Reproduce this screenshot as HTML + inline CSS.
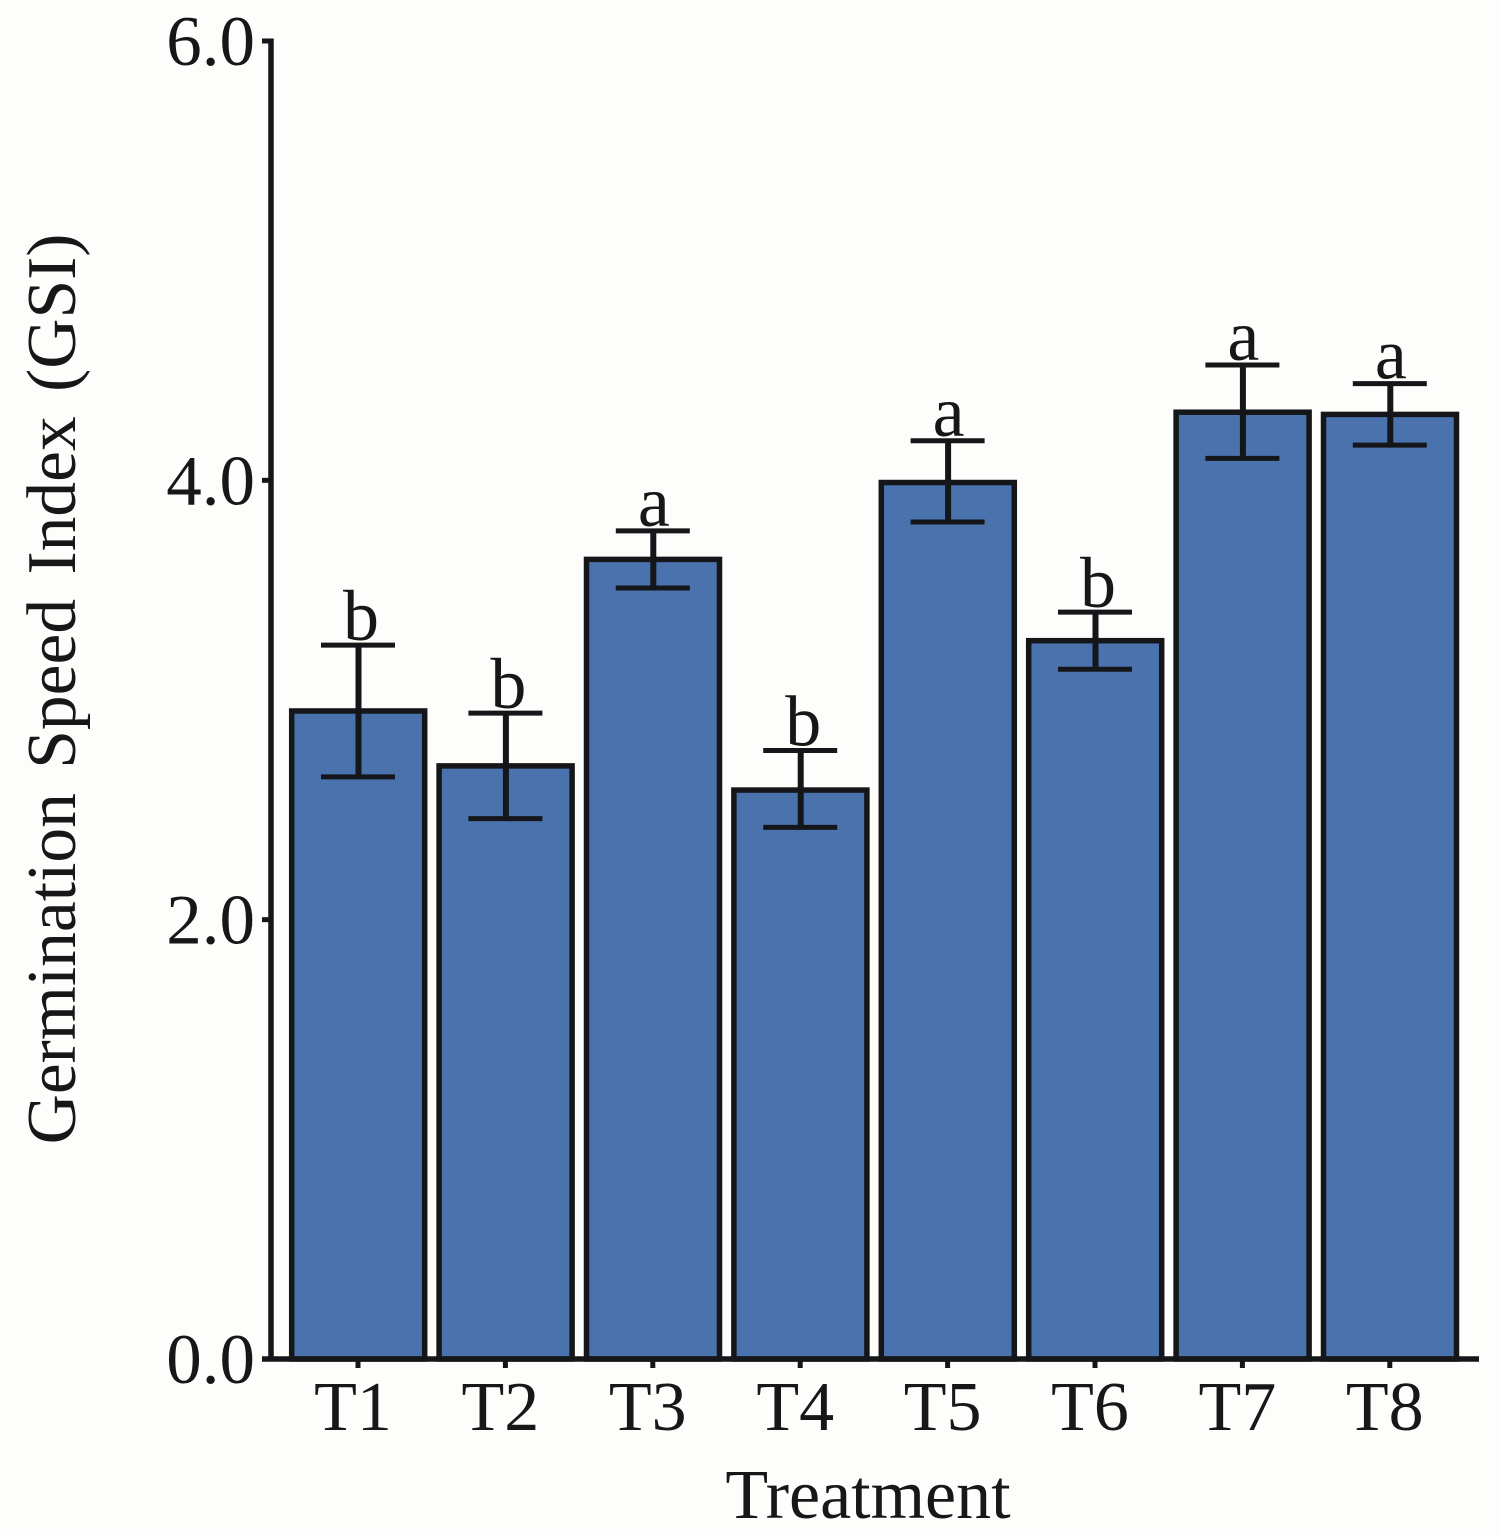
<!DOCTYPE html>
<html lang="en">
<head>
<meta charset="utf-8">
<title>Germination Speed Index</title>
<style>
html,body{margin:0;padding:0;background:#fdfdfb;}
svg{display:block;}
text{font-family:"Liberation Serif",serif;fill:#171717;}
</style>
</head>
<body>
<svg id="chart" xmlns="http://www.w3.org/2000/svg" width="1499" height="1535" viewBox="0 0 1499 1535">
<rect x="0" y="0" width="1499" height="1535" fill="#fdfdfb"/>
<g id="bars"></g>
<g id="errors"></g>
<g id="letters"></g>
<g id="axes"></g>
<text x="868" y="1518" font-size="70" text-anchor="middle">Treatment</text>
<text transform="translate(75 689) rotate(-90)" font-size="69.5" word-spacing="7" text-anchor="middle">Germination Speed Index (GSI)</text>
</svg>
<script>
const categories = ['T1','T2','T3','T4','T5','T6','T7','T8'];
const means = [2.95,2.70,3.64,2.59,3.99,3.27,4.31,4.30];
const errorHigh = [3.25,2.94,3.77,2.77,4.18,3.40,4.525,4.44];
const errorLow = [2.65,2.46,3.51,2.42,3.81,3.14,4.10,4.16];
const letters = ['b','b','a','b','a','b','a','a'];
const yTicks = [0,2,4,6];
const yTickLabels = ['0.0','2.0','4.0','6.0'];

const NS = 'http://www.w3.org/2000/svg';
const INK = '#14161a';
const FILL = '#4a72ad';
const y = v => 1359 - v * 219.67;
const x = i => 358 + i * 147.4;
const make = (parent, tag, attrs) => {
  const el = document.createElementNS(NS, tag);
  Object.keys(attrs).forEach(k => el.setAttribute(k, attrs[k]));
  parent.appendChild(el);
  return el;
};
const barsG = document.getElementById('bars');
const errG = document.getElementById('errors');
const letG = document.getElementById('letters');
const axG = document.getElementById('axes');

categories.forEach((c, i) => {
  const cx = x(i);
  const bar = make(barsG, 'rect', {x: cx - 66.3, y: y(means[i]), width: 133, height: y(0) - y(means[i]), fill: FILL, stroke: INK, 'stroke-width': 5.5});
  
  

  const stem = make(errG, 'line', {x1: cx + 0.5, x2: cx + 0.5, y1: y(errorHigh[i]), y2: y(errorLow[i]), stroke: INK, 'stroke-width': 6});
  
  
  const capHigh = make(errG, 'line', {x1: cx - 37, x2: cx + 37, y1: y(errorHigh[i]), y2: y(errorHigh[i]), stroke: INK, 'stroke-width': 5});
  
  
  const capLow = make(errG, 'line', {x1: cx - 37, x2: cx + 37, y1: y(errorLow[i]), y2: y(errorLow[i]), stroke: INK, 'stroke-width': 5});
  
  

  const lt = make(letG, 'text', {x: cx + (letters[i] === 'b' ? 3 : 1), y: y(errorHigh[i]) - 5, 'font-size': 72, 'text-anchor': 'middle'});
  lt.textContent = letters[i];
  
  

  const tick = make(axG, 'line', {x1: cx, x2: cx, y1: y(0), y2: y(0) + 9, stroke: INK, 'stroke-width': 5});
  
  
  const label = make(axG, 'text', {x: cx - 5, y: 1430, 'font-size': 70, 'text-anchor': 'middle'});
  label.textContent = c;
  
  
});

yTicks.forEach((v, i) => {
  const tick = make(axG, 'line', {x1: 262, x2: 271, y1: y(v), y2: y(v), stroke: INK, 'stroke-width': 5});
  
  
  const label = make(axG, 'text', {x: 255, y: y(v) + 24, 'font-size': 71, 'text-anchor': 'end'});
  label.textContent = yTickLabels[i];
  
  
});

const yAxis = make(axG, 'line', {x1: 271, x2: 271, y1: y(6) - 2.5, y2: y(0) + 2.5, stroke: INK, 'stroke-width': 5.5});


const xAxis = make(axG, 'line', {x1: 262, x2: 1479, y1: y(0), y2: y(0), stroke: INK, 'stroke-width': 5.5});


</script>
</body>
</html>
